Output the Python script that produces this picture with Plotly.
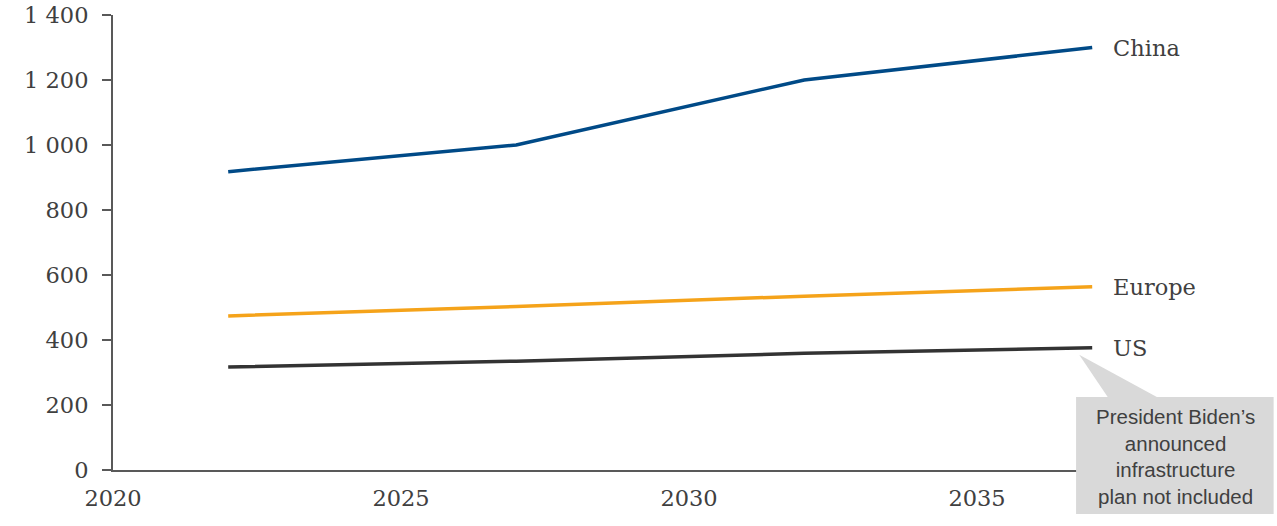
import plotly.graph_objects as go

# Projected values by region
years = [2022, 2027, 2032, 2037]
china = [918, 1000, 1200, 1300]
europe = [474, 503, 535, 564]
us = [317, 335, 359, 376]

series_names = ["China", "Europe", "US"]
series_values = [china, europe, us]
series_colors = ["#004a87", "#f5a31a", "#333333"]

x_ticks = [2020, 2025, 2030, 2035]
y_ticks = [0, 200, 400, 600, 800, 1000, 1200, 1400]

note_text = "President Biden’s<br>announced<br>infrastructure<br>plan not included"

serif = "DejaVu Serif"
sans = "Liberation Sans"
text_color = "#404040"
axis_color = "#595959"

fig = go.Figure()

for name, vals, color in zip(series_names, series_values, series_colors):
    fig.add_trace(go.Scatter(
        x=years, y=vals, mode="lines", name=name,
        line=dict(color=color, width=3.5),
        hoverinfo="skip",
    ))
    # series label just right of the last point
    fig.add_annotation(
        x=years[-1], y=vals[-1], xref="x", yref="y",
        text=name, showarrow=False, xanchor="left", yanchor="middle",
        xshift=19, font=dict(family=serif, size=22.5, color=text_color),
    )

# callout pointer, anchored at the last US point
fig.add_shape(
    type="path", xref="x", yref="y",
    xsizemode="pixel", ysizemode="pixel",
    xanchor=years[-1], yanchor=us[-1],
    path="M -13,-7 L 16,-50 L 66,-50 Z",
    fillcolor="#d9d9d9", line=dict(width=0), layer="above",
)
# callout box
fig.add_shape(
    type="rect", xref="paper", yref="paper",
    x0=0.836, x1=1.0075, y0=-0.0967, y1=0.1604,
    fillcolor="#d9d9d9", line=dict(width=0), layer="above",
)
fig.add_annotation(
    x=0.9219, y=0.0286, xref="paper", yref="paper",
    text=note_text, showarrow=False, xanchor="center", yanchor="middle",
    font=dict(family=sans, size=20.5, color=text_color),
)

fig.update_layout(
    width=1277, height=526,
    margin=dict(l=113, r=12, t=15, b=56),
    paper_bgcolor="white", plot_bgcolor="white",
    showlegend=False,
    separators=". ",
    font=dict(family=serif, size=22, color=text_color),
)
fig.update_xaxes(
    range=[2020, 2040], tickvals=x_ticks,
    automargin=False,
    showgrid=False, zeroline=False,
    showline=True, linecolor=axis_color, linewidth=2,
    ticks="", ticklabelstandoff=7,
    tickfont=dict(family=serif, size=22.5, color=text_color),
)
fig.update_yaxes(
    range=[0, 1400], tickvals=y_ticks,
    automargin=False,
    separatethousands=True,
    showgrid=False, zeroline=False,
    showline=True, linecolor=axis_color, linewidth=2,
    ticks="outside", ticklen=9, tickwidth=2, tickcolor=axis_color,
    ticklabelstandoff=9,
    tickfont=dict(family=serif, size=22.5, color=text_color),
)

fig.write_html("out.html")
